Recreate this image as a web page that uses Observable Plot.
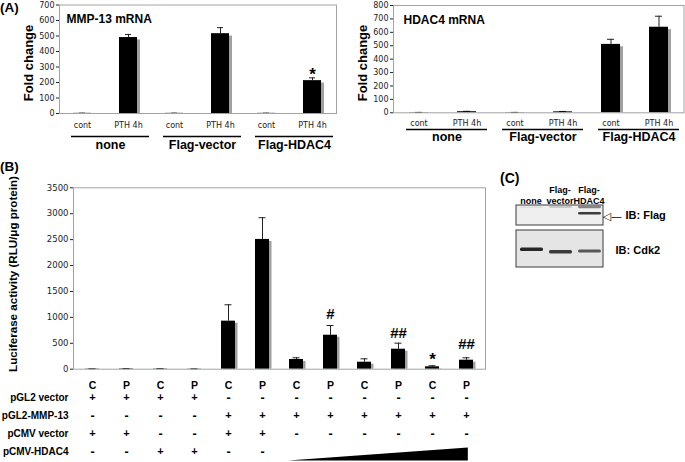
<!DOCTYPE html>
<html><head><meta charset="utf-8">
<script src="https://cdn.jsdelivr.net/npm/d3@7"></script>
<script src="https://cdn.jsdelivr.net/npm/@observablehq/plot@0.6"></script>
<style>
body{margin:0;background:#fff}
#fig{position:relative;width:685px;height:462px;overflow:hidden;background:#fff;font-family:"Liberation Sans",Arial,sans-serif}
.lbl{position:absolute;font-weight:bold;white-space:nowrap;line-height:1;color:#000}
.rot{transform:translate(-50%,-50%) rotate(-90deg)}
.ctr{transform:translate(-50%,-50%)}
</style></head><body><div id="fig"></div>
<script>
// ---------- data ----------
const groupsA = ["none", "Flag-vector", "Flag-HDAC4"];
const conditionsA = ["cont", "PTH 4h"];
const mmp13Mean = [1, 490, 1, 515, 1, 212];
const mmp13Err = [1, 20, 1, 39, 1, 18];
const mmp13Sig = ["", "", "", "", "", "*"];
const mmp13SigAt = [null, null, null, null, null, 249];
const hdac4Mean = [2, 8, 2, 7, 510, 638];
const hdac4Err = [1, 3, 1, 3, 38, 82];
const yTicksA1 = [0, 100, 200, 300, 400, 500, 600, 700];
const yTicksA2 = [0, 100, 200, 300, 400, 500, 600, 700, 800];

const colLabelsB = ["C", "P", "C", "P", "C", "P", "C", "P", "C", "P", "C", "P"];
const lucMean = [5, 8, 6, 4, 927, 2504, 187, 656, 135, 386, 46, 174];
const lucErr = [2, 3, 3, 2, 316, 419, 33, 187, 65, 116, 20, 46];
const lucSig = ["", "", "", "", "", "", "", "#", "", "##", "*", "##"];
const lucSigAt = [null, null, null, null, null, null, null, 1056, null, 703, 193, 490];
const yTicksB = [0, 500, 1000, 1500, 2000, 2500, 3000, 3500];

const rowNames = ["pGL2 vector", "pGL2-MMP-13", "pCMV vector", "pCMV-HDAC4"];
const pGL2vector = ["+", "+", "+", "+", "-", "-", "-", "-", "-", "-", "-", "-"];
const pGL2mmp13 = ["-", "-", "-", "-", "+", "+", "+", "+", "+", "+", "+", "+"];
const pCMVvector = ["+", "+", "-", "-", "+", "+", "-", "-", "-", "-", "-", "-"];
const pCMVhdac4 = ["-", "-", "+", "+", "-", "-", "", "", "", "", "", ""];
const hdac4Ramp = [{col: 6.76, amount: 0}, {col: 12, amount: 1}];

const lanes = ["none", "Flag-vector", "Flag-HDAC4"];
const laneLabels = ["none", "Flag-\nvector", "Flag-\nHDAC4"];
const blotRows = [
  {label: "IB: Flag", top: 0, bottom: 20, at: 10},
  {label: "IB: Cdk2", top: 25, bottom: 62, at: 45}
];
const blotBands = [
  {lane: "none", y1: 1.5, y2: 3, intensity: 0.08},
  {lane: "Flag-vector", y1: 1, y2: 3, intensity: 0.18},
  {lane: "Flag-HDAC4", y1: 0.8, y2: 3.2, intensity: 0.5},
  {lane: "Flag-HDAC4", y1: 7, y2: 9.6, intensity: 0.85},
  {lane: "none", y1: 42.5, y2: 46, intensity: 0.95},
  {lane: "Flag-vector", y1: 45, y2: 48.5, intensity: 0.85},
  {lane: "Flag-HDAC4", y1: 44.5, y2: 47.5, intensity: 0.7}
];

// ---------- helpers ----------
const LS = "Liberation Sans, Arial, sans-serif";
const DV = "DejaVu Sans, Verdana, sans-serif";
const fig = document.getElementById("fig");
function place(el, left, top) {
  el.style.position = "absolute";
  el.style.left = left + "px";
  el.style.top = top + "px";
  el.style.background = "transparent";
  el.style.overflow = "visible";
  el.style.maxWidth = "none";
  fig.appendChild(el);
  return el;
}
function label(text, cx, cy, size, cls) {
  const d = document.createElement("div");
  d.className = "lbl " + cls;
  d.textContent = text;
  d.style.left = cx + "px";
  d.style.top = cy + "px";
  d.style.fontSize = size + "px";
  fig.appendChild(d);
}

function barPanel(o) {
  const data = o.mean.map((v, i) => ({i, v, hi: v + o.err[i], sig: o.sig ? o.sig[i] : "", sigAt: o.sigAt ? o.sigAt[i] : null}));
  return Plot.plot({
    width: o.width, height: o.height,
    marginLeft: o.mL, marginRight: o.mR, marginTop: o.mT, marginBottom: o.mB,
    style: {fontFamily: DV, fontSize: o.tickFont + "px", color: "#222"},
    x: {type: "band", domain: d3.range(o.mean.length), paddingInner: 0.6, paddingOuter: 0.3,
        axis: o.xLabels ? "bottom" : null, tickSize: 0, tickPadding: o.tickPad,
        tickFormat: o.xLabels ? (i => o.xLabels[i]) : undefined, label: null},
    y: {domain: [0, o.yMax], ticks: o.ticks, tickSize: 3, tickPadding: 2, tickFormat: d3.format("d"), label: null},
    marks: [
      Plot.barY(data, {x: "i", y: "v", fill: "#a0a0a0", dx: o.sh, dy: o.sh * 0.8, insetBottom: o.sh * 0.8}),
      Plot.ruleX(data, {x: "i", y1: "v", y2: "hi", stroke: "#222", strokeWidth: 1}),
      Plot.tickY(data, {x: "i", y: "hi", stroke: "#222", strokeWidth: 1, insetLeft: o.cap, insetRight: o.cap}),
      Plot.barY(data, {x: "i", y: "v", fill: "#000"}),
      Plot.frame({stroke: "#a3a3a3"}),
      o.title ? Plot.text([o.title], {frameAnchor: "top-left", dx: o.titleDx, dy: 9.5, textAnchor: "start",
        fontFamily: LS, fontWeight: "bold", fontSize: 12, fill: "#000"}) : null,
      Plot.text(data.filter(d => d.sig), {x: "i", y: "sigAt", text: "sig", fontFamily: LS, fontWeight: "bold",
        fontSize: d => d.sig === "*" ? 17 : 15, fill: "#000"})
    ]
  });
}

function groupStrip(o) {
  return Plot.plot({
    width: o.width, height: o.height,
    marginLeft: o.mL, marginRight: o.mR, marginTop: o.mT, marginBottom: o.mB,
    x: {type: "band", domain: groupsA, padding: 0, axis: null},
    y: {domain: [0, 1], axis: null},
    marks: [
      Plot.tickY(groupsA, {x: d => d, y: () => 1, stroke: "#000", strokeWidth: 1.5, insetLeft: o.inL, insetRight: o.inR}),
      Plot.text(groupsA, {x: d => d, y: () => 0, text: d => d, dx: (o.inL - o.inR) / 2,
        fontFamily: LS, fontWeight: "bold", fontSize: 12.5, fill: "#000"})
    ]
  });
}

// ---------- Panel A ----------
place(barPanel({mean: mmp13Mean, err: mmp13Err, sig: mmp13Sig, sigAt: mmp13SigAt, ticks: yTicksA1, yMax: 700,
  width: 340, height: 132, mL: 59, mR: 4, mT: 4.5, mB: 19, tickFont: 8, tickPad: 9,
  xLabels: d3.range(6).map(i => conditionsA[i % 2]), cap: 6, sh: 3, title: "MMP-13 mRNA", titleDx: 7}), 0, 0);
place(groupStrip({width: 340, height: 22, mL: 59, mR: 4, mT: 6, mB: 8, inL: 11, inR: 3}), 0, 130);

place(barPanel({mean: hdac4Mean, err: hdac4Err, ticks: yTicksA2, yMax: 800,
  width: 345, height: 132, mL: 53, mR: 1.5, mT: 5, mB: 19.7, tickFont: 8, tickPad: 8,
  xLabels: d3.range(6).map(i => conditionsA[i % 2]), cap: 6, sh: 3, title: "HDAC4 mRNA", titleDx: 10}), 340, 0);
place(groupStrip({width: 345, height: 21, mL: 53, mR: 1.5, mT: 6, mB: 8, inL: 12, inR: 3}), 340, 123);

label("(A)", 0, 1, 13.5, "");
label("Fold change", 28, 63, 13, "rot");
label("Fold change", 362, 63, 13, "rot");

// ---------- Panel B ----------
place(barPanel({mean: lucMean, err: lucErr, sig: lucSig, sigAt: lucSigAt, ticks: yTicksB, yMax: 3500,
  width: 490, height: 210, mL: 73, mR: 5, mT: 27.3, mB: 1.3, tickFont: 8.5, tickPad: 0,
  xLabels: null, cap: 3.5, sh: 2.5}), 0, 160);

const signRows = [pGL2vector, pGL2mmp13, pCMVvector, pCMVhdac4];
const signs = [];
signRows.forEach((row, r) => row.forEach((s, c) => { if (s) signs.push({row: rowNames[r], col: c, s}); }));

place(Plot.plot({
  width: 490, height: 92, marginLeft: 73, marginRight: 5, marginTop: 26.7, marginBottom: 10.3,
  style: {fontFamily: LS, fontSize: "10px", fontWeight: "bold", color: "#000"},
  x: {type: "band", domain: d3.range(12), paddingInner: 0.6, paddingOuter: 0.3, axis: null},
  y: {type: "point", domain: rowNames, padding: 0, tickSize: 0, tickPadding: 5, label: null},
  marks: [
    Plot.text(colLabelsB, {x: (d, i) => i, text: d => d, frameAnchor: "top", dy: -15.5,
      fontFamily: LS, fontSize: 10.5, fontWeight: "bold", fill: "#000"}),
    Plot.text(signs, {x: "col", y: "row", text: "s", fontFamily: LS, fontWeight: "bold", fill: "#000",
      fontSize: d => d.s === "-" ? 12.5 : 11})
  ]
}), 0, 370);

place(Plot.plot({
  width: 490, height: 22, marginLeft: 73, marginRight: 5, marginTop: 7.5, marginBottom: 1.5,
  x: {domain: [0.5, 12.5], axis: null},
  y: {domain: [0, 1], axis: null},
  marks: [Plot.areaY(hdac4Ramp, {x: "col", y: "amount", fill: "#000"})]
}), 0, 440);

label("(B)", 0, 160, 13.5, "");
label("Luciferase activity (RLU/\u03bcg protein)", 13, 274, 11.6, "rot");

// ---------- Panel C ----------
const svgC = place(Plot.plot({
  width: 190, height: 110, marginLeft: 21, marginRight: 82, marginTop: 45, marginBottom: 3,
  style: {fontFamily: LS, color: "#000"},
  x: {type: "band", domain: lanes, padding: 0, axis: null},
  y: {domain: [0, 62], reverse: true, axis: null},
  marks: [
    Plot.barY(blotRows, {y1: "top", y2: "bottom", fill: (d, i) => i === 0 ? "#efefef" : "#e5e5e5", stroke: "#3a3a3a", strokeWidth: 1}),
    Plot.barY(blotBands, {x: "lane", y1: "y1", y2: "y2", fill: "#1c1c1c", fillOpacity: "intensity",
      insetLeft: 4, insetRight: 2, rx: 1.5, ariaLabel: "band"}),
    Plot.text(lanes, {x: d => d, text: (d, i) => laneLabels[i], frameAnchor: "top", lineAnchor: "bottom", dy: -1.5,
      lineHeight: 1.25, fontFamily: LS, fontSize: 9, fontWeight: "bold", fill: "#000"}),
    Plot.text([blotRows[0]], {y: () => blotRows[0].at + 1, text: () => "\u25C1\u2014", frameAnchor: "right", dx: -1,
      textAnchor: "start", fontFamily: DV, fontSize: 11, fill: "#000"}),
    Plot.text([blotRows[0]], {y: "at", text: "label", frameAnchor: "right", dx: 22, textAnchor: "start",
      fontFamily: LS, fontSize: 11, fontWeight: "bold", fill: "#000"}),
    Plot.text([blotRows[1]], {y: "at", text: "label", frameAnchor: "right", dx: 12, textAnchor: "start",
      fontFamily: LS, fontSize: 11, fontWeight: "bold", fill: "#000"})
  ]
}), 495, 160);
const sel = d3.select(svgC);
const flt = sel.append("defs").append("filter").attr("id", "blotblur")
  .attr("x", "-20%").attr("y", "-50%").attr("width", "140%").attr("height", "200%");
flt.append("feGaussianBlur").attr("stdDeviation", 0.7);
sel.selectAll('g[aria-label="band"]').attr("filter", "url(#blotblur)");

label("(C)", 500, 171, 14, "");
</script></body></html>
